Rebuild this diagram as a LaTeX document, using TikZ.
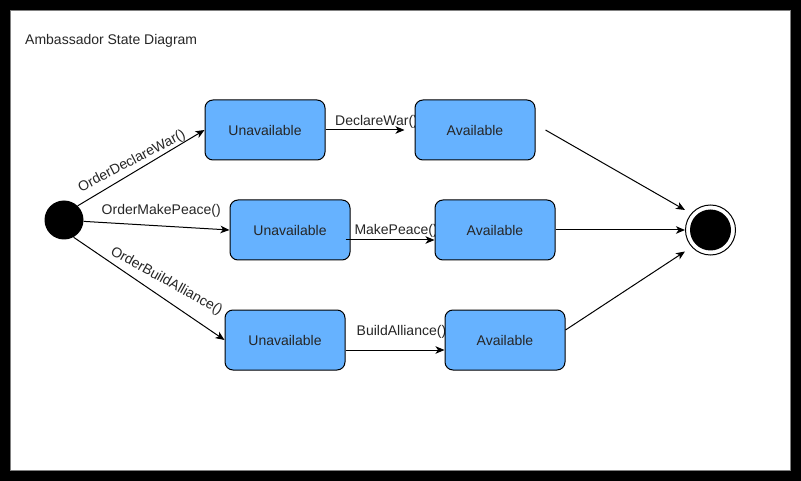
\documentclass[tikz,border=0pt]{standalone}
\usepackage{fontspec}
\setmainfont{Liberation Sans}
\usetikzlibrary{arrows.meta}
\definecolor{statefill}{RGB}{102,178,255}
\definecolor{ink}{RGB}{38,38,38}
\begin{document}
\begin{tikzpicture}[x=1pt,y=-1pt,
  txt/.style={font=\fontsize{14pt}{16pt}\selectfont, text=ink, inner sep=0pt},
  statebox/.style={txt, draw=black, fill=statefill, rounded corners=8pt,
    minimum width=120pt, minimum height=60pt, line width=1pt},
  trans/.style={draw=black, line width=1pt,
    -{Stealth[length=9pt,width=7.5pt,inset=2.5pt]}},
]
% frame
\fill[black] (0,0) rectangle (801,481);
\filldraw[fill=white, draw=gray, line width=0.8pt] (10,10) rectangle (790,470);
\useasboundingbox (0,0) rectangle (801,481);

\node[txt, anchor=base west] (title) at (25,45) {Ambassador State Diagram};

% transition labels (drawn below the states so the boxes overlap them)
\node[txt, rotate=27.5] (lblodw) at (132,161.5) {OrderDeclareWar()};
\node[txt, anchor=base west] (lblomp) at (101.5,215) {OrderMakePeace()};
\node[txt, rotate=-29] (lbloba) at (166.5,281.5) {OrderBuildAlliance()};
\node[txt, anchor=base west] (lbldw) at (335,125.5) {DeclareWar()};
\node[txt, anchor=base west] (lblmp) at (354.3,234.3) {MakePeace()};
\node[txt, anchor=base west] (lblba) at (356.5,335) {BuildAlliance()};

% initial and final states
\node[circle, fill=black, minimum size=39pt, inner sep=0pt] (init) at (64,220) {};
\node[circle, draw=black, fill=white, line width=1pt, minimum size=50pt, inner sep=0pt] (final) at (710.5,230) {};
\node[circle, fill=black, minimum size=41pt, inner sep=0pt] (finalcore) at (final) {};

% states
\node[statebox] (u1) at (265,130) {Unavailable};
\node[statebox] (a1) at (475,130) {Available};
\node[statebox] (u2) at (290,230) {Unavailable};
\node[statebox] (a2) at (495,230) {Available};
\node[statebox] (u3) at (285,340) {Unavailable};
\node[statebox] (a3) at (505,340) {Available};

% transitions from the initial state
\draw[trans] (init.46) -- (u1.west);
\draw[trans] (init.-4) -- (u2.west);
\draw[trans] (init.-61) -- (u3.west);

% unavailable -> available
\draw[trans, shorten >=10pt] (u1.east) -- (a1.west);
\draw[trans] ([shift={(-5,10)}]u2.east) -- ([shift={(0,10)}]a2.west);
\draw[trans] ([shift={(0,10)}]u3.east) -- ([shift={(0,10)}]a3.west);

% available -> final
\draw[trans] ([shift={(10,0)}]a1.east) -- ([shift={(-25.5,-20)}]final.center);
\draw[trans] (a2.east) -- (final.west);
\draw[trans] ([shift={(0,-10)}]a3.east) -- ([shift={(-25.5,21.5)}]final.center);
\end{tikzpicture}
\end{document}
